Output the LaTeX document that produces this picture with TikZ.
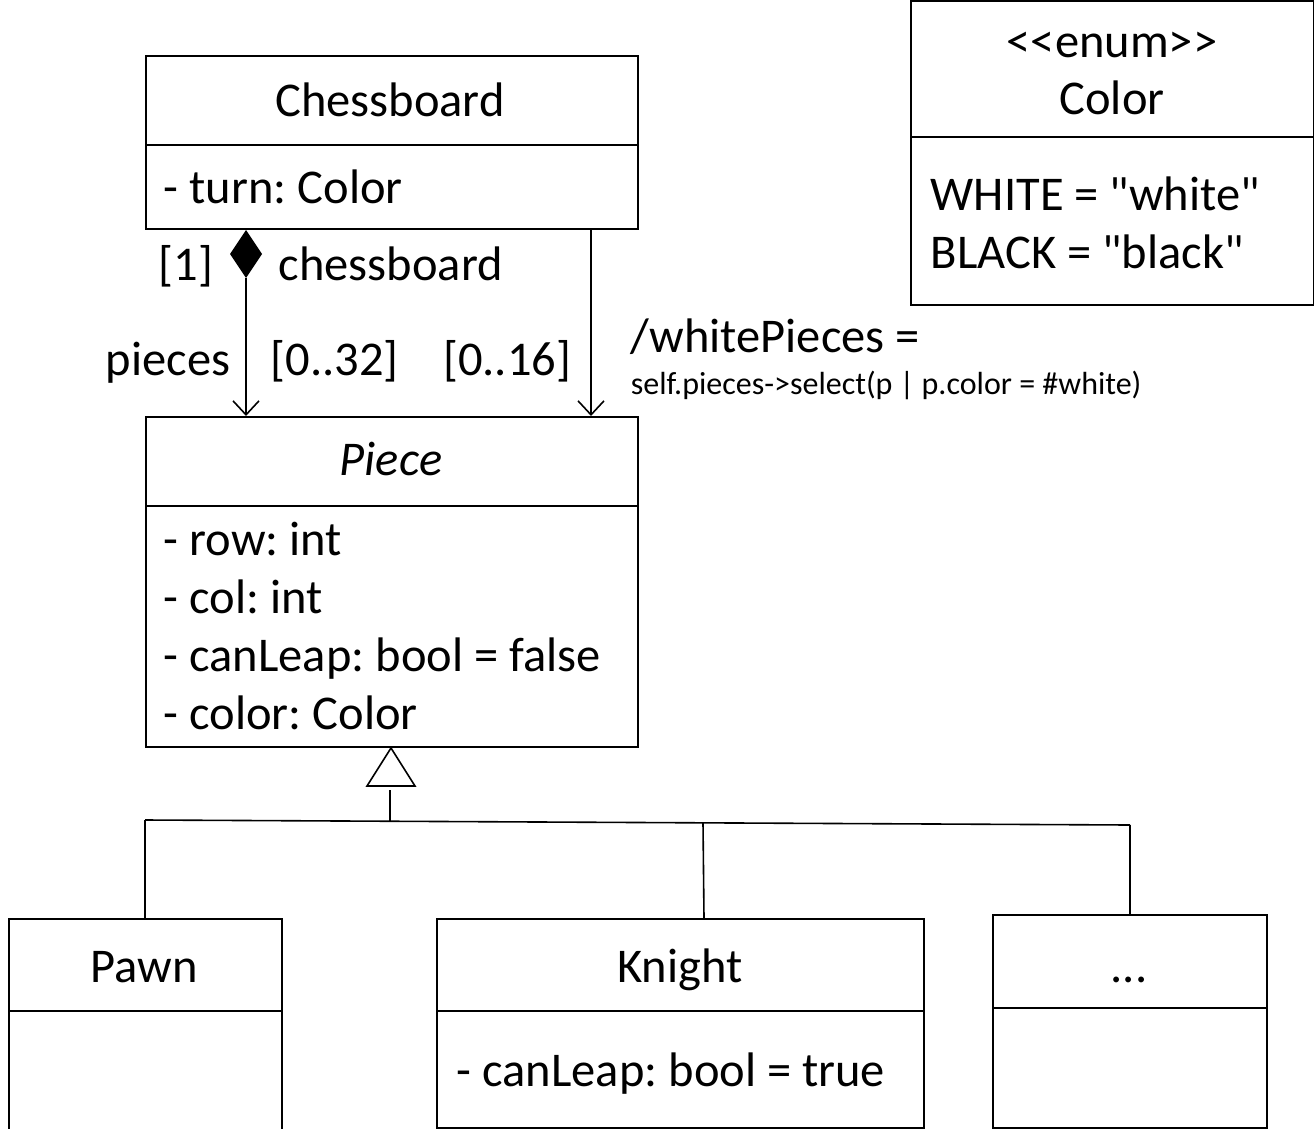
\documentclass[tikz,border=0pt]{standalone}
\usepackage{fontspec}
\setmainfont{Carlito}[Ligatures=TeXOff]
\usetikzlibrary{arrows.meta}
\frenchspacing
\begin{document}
\begin{tikzpicture}[x=1pt,y=-1pt, line width=1.6pt,
 cls/.style={draw, line width=1.6pt, anchor=north west, inner sep=0pt},
 big/.style={font=\fontsize{48.5}{58}\selectfont, inner sep=0pt},
 small/.style={font=\fontsize{32}{38}\selectfont, inner sep=0pt},
 assoc/.style={-{Straight Barb[length=14pt,width=26pt,line width=1.6pt]}}]
\useasboundingbox (0,0) rectangle (1314,1129);
% boxes
\node[cls, minimum width=492pt, minimum height=173pt] (cb) at (145,55) {};
\node[cls, minimum width=403pt, minimum height=304pt] (en) at (910,0) {};
\node[cls, minimum width=492pt, minimum height=330pt] (pc) at (145,416) {};
\node[cls, minimum width=273pt, minimum height=211pt] (pw) at (8,918) {};
\node[cls, minimum width=487pt, minimum height=209pt] (kn) at (436,918) {};
\node[cls, minimum width=274pt, minimum height=213pt] (dt) at (992,914) {};
% dividers
\draw (cb.west |- 0,145) -- (cb.east |- 0,145);
\draw (en.west |- 0,137) -- (en.east |- 0,137);
\draw (pc.west |- 0,506) -- (pc.east |- 0,506);
\draw (pw.west |- 0,1011) -- (pw.east |- 0,1011);
\draw (kn.west |- 0,1011) -- (kn.east |- 0,1011);
\draw (dt.west |- 0,1008) -- (dt.east |- 0,1008);
% texts
\node[big, anchor=base] (t1) at (390,117) {Chessboard};
\node[big, anchor=base west] (t2) at (163,203) {- turn: Color};
\node[big, anchor=base] (t3) at (1112,58) {<<enum>>};
\node[big, anchor=base] (t4) at (1112,115) {Color};
\node[big, anchor=base west] (t5) at (930,210) {WHITE = "white"};
\node[big, anchor=base west] (t6) at (930,268) {BLACK = "black"};
\node[big, anchor=base] (t7) at (391,475) {\itshape Piece};
\node[big, anchor=base west] (t8) at (163,555) {- row: int};
\node[big, anchor=base west] (t9) at (163,613) {- col: int};
\node[big, anchor=base west] (t10) at (163,671) {- canLeap: bool = false};
\node[big, anchor=base west] (t11) at (163,729) {- color: Color};
\node[big, anchor=base] (t12) at (144,982) {Pawn};
\node[big, anchor=base] (t13) at (680,982) {Knight};
\node[big, anchor=base] (t14) at (1129,982) {...};
\node[big, anchor=base west] (t15) at (456,1086) {- canLeap: bool = true};
% association labels
\node[big, anchor=base east] (l1) at (214,280) {[1]};
\node[big, anchor=base west] (l2) at (278,280) {chessboard};
\node[big, anchor=base east] (l3) at (231,375) {pieces};
\node[big, anchor=base west] (l4) at (270,375) {[0..32]};
\node[big, anchor=base east] (l5) at (572,375) {[0..16]};
\node[big, anchor=base west] (l6) at (630,352) {/whitePieces =};
\node[small, anchor=base west] (l7) at (630,394) {self.pieces->select(p | p.color = \#white)};
% composition
\coordinate (dtop) at (246,230);
\coordinate (dbot) at (246,278);
\fill (dtop) -- (262,254) -- (dbot) -- (230,254) -- cycle;
\draw[assoc] (dbot) -- (dbot |- pc.north);
% derived association
\coordinate (r1) at (591,230);
\draw[assoc] (r1) -- (r1 |- pc.north);
% generalization
\coordinate (apex) at (391,748);
\draw (apex) -- (415,786) -- (367,786) -- cycle;
\coordinate (stem) at (390,790);
\coordinate (jl) at (145,820);
\coordinate (jm) at (390,821);
\coordinate (jk) at (703,823);
\coordinate (jr) at (1130,825);
\draw (stem) -- (jm);
\draw (jl) -- (jr);
\draw (jl) -- (jl |- pw.north);
\draw (jk) -- (704,918);
\draw (jr) -- (jr |- dt.north);
\end{tikzpicture}
\end{document}
